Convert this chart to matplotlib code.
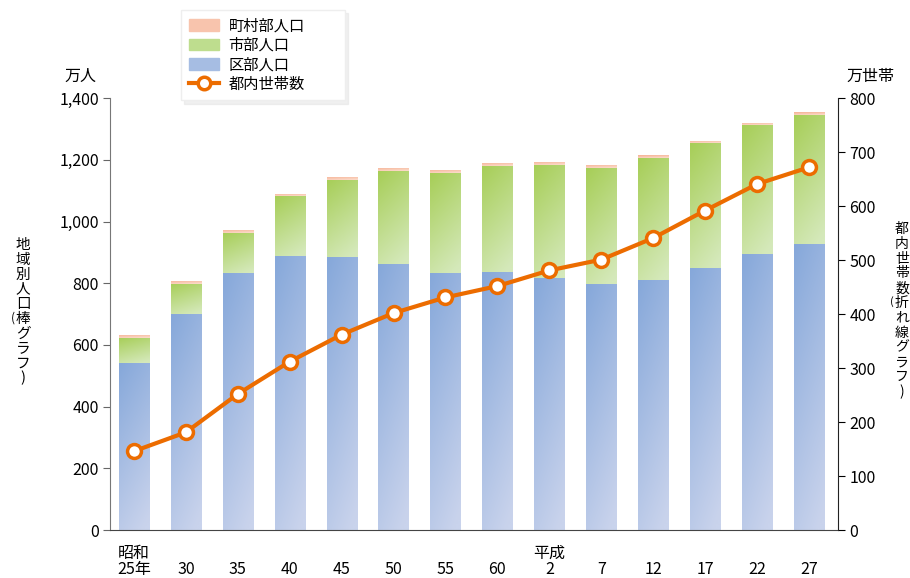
import numpy as np
import matplotlib
matplotlib.use("Agg")
import matplotlib.pyplot as plt
from matplotlib.colors import to_rgb
from matplotlib.patches import Patch
from matplotlib.lines import Line2D

plt.rcParams['font.family'] = ['Noto Sans CJK JP', 'DejaVu Sans']

# データ (万人 / 万世帯)
nendo = ["25年", "30", "35", "40", "45", "50", "55", "60",
         "2", "7", "12", "17", "22", "27"]
ku_jinko = [540, 699, 832, 890, 884, 864, 835, 838, 818, 797, 812, 849, 896, 928]
shi_jinko = [82, 98, 130, 192, 250, 299, 322, 342, 365, 376, 394, 405, 416, 417]
chouson_jinko = [10, 10, 10, 8, 10, 10, 10, 10, 10, 10, 9, 8, 8, 9]
setai = [146, 181, 252, 312, 362, 402, 431, 452, 481, 501, 541, 592, 641, 672]

# 色 (上・下)
ao = ("#86a8da", "#c9d3ec")
midori = ("#a7ce58", "#d5e9bb")
momo = ("#f5b093", "#fcdccb")
orange = "#ec6c00"

fig = plt.figure(figsize=(9.1, 5.78), dpi=100)
ax = fig.add_axes([0.1209, 0.083, 0.8, 0.747])
ax2 = ax.twinx()

x = np.arange(len(nendo))
haba = 0.58


def gradient_bar(xc, bottom, height, colors):
    """グラデーションの棒を描く"""
    bar = ax.bar(xc, height, bottom=bottom, width=haba,
                 color=colors[1], linewidth=0, zorder=2)[0]
    c0 = np.array(to_rgb(colors[0]))
    c1 = np.array(to_rgb(colors[1]))
    yy, xx = np.mgrid[0:1:64j, 0:1:16j]
    t = np.clip(0.8 * yy + 0.25 * xx, 0, 1)
    img = c0 + (c1 - c0) * t[..., None]
    im = ax.imshow(img, extent=[xc - haba / 2, xc + haba / 2,
                                bottom, bottom + height],
                   origin="upper", aspect="auto", zorder=2.1,
                   interpolation="bilinear")
    im.set_clip_path(bar)


for i in range(len(nendo)):
    gradient_bar(x[i], 0, ku_jinko[i], ao)
    gradient_bar(x[i], ku_jinko[i], shi_jinko[i], midori)
    gradient_bar(x[i], ku_jinko[i] + shi_jinko[i], chouson_jinko[i], momo)

ax.set_xlim(-0.46, 13.56)
ax.set_ylim(0, 1400)
ax.set_yticks(range(0, 1401, 200))
ax.set_yticklabels([f"{v:,}" for v in range(0, 1401, 200)])
ax.set_xticks(x)
ax.set_xticklabels(nendo)
ax.tick_params(axis="x", length=0, pad=22, labelsize=11.5)
ax.tick_params(axis="y", length=5, color="#666666", labelsize=11.5, pad=3)
ax.spines["top"].set_visible(False)
ax.spines["right"].set_visible(False)
ax.spines["left"].set_color("#777777")
ax.spines["bottom"].set_color("#444444")

ax2.plot(x, setai, color=orange, linewidth=3, marker="o", markersize=10,
         markerfacecolor="white", markeredgecolor=orange,
         markeredgewidth=2.5, zorder=5)
ax2.set_ylim(0, 800)
ax2.set_yticks(range(0, 801, 100))
ax2.tick_params(axis="y", length=5, labelsize=11.5, pad=3)
for s in ["top", "left", "bottom"]:
    ax2.spines[s].set_visible(False)
ax2.spines["right"].set_color("#222222")

# 元号
ax.text(0, -0.055, "昭和", transform=ax.get_xaxis_transform(),
        ha="center", va="center", fontsize=11.5)
ax.text(8, -0.055, "平成", transform=ax.get_xaxis_transform(),
        ha="center", va="center", fontsize=11.5)

# 単位
fig.text(80 / 910, 1 - 76 / 578, "万人", ha="center", va="center", fontsize=11.5)
fig.text(870 / 910, 1 - 76 / 578, "万世帯", ha="center", va="center", fontsize=11.5)


# 縦書きラベル (一文字ずつ)
def tategaki(xp, ytop, moji, step=14.8, size=10.5):
    y = ytop
    for ch in moji:
        if ch == "(":
            fig.text((xp - 10) / 910, 1 - (y - 1) / 578, "(", ha="center",
                     va="center", fontsize=size - 2)
            continue
        fig.text(xp / 910, 1 - y / 578, ch, ha="center", va="center",
                 fontsize=size)
        y += step


tategaki(23, 245, "地域別人口(棒グラフ)")
tategaki(902, 229, "都内世帯数(折れ線グラフ)", size=10)

# 凡例
handles = [Patch(color="#f8c4ad", label="町村部人口"),
           Patch(color="#bedd8e", label="市部人口"),
           Patch(color="#a6bde3", label="区部人口"),
           Line2D([], [], color=orange, linewidth=3, marker="o", markersize=9,
                  markerfacecolor="white", markeredgecolor=orange,
                  markeredgewidth=2.5, label="都内世帯数")]
leg = fig.legend(handles=handles, loc="upper left",
                 bbox_to_anchor=(181 / 910, 1 - 100 / 578, 164 / 910, 90 / 578),
                 mode="expand", borderaxespad=0, fontsize=11,
                 frameon=True, fancybox=False, framealpha=1,
                 shadow={"color": "#e2e2e2", "ox": 2.5, "oy": -2.5},
                 edgecolor="#eeeeee", handlelength=2.0, handleheight=0.8,
                 labelspacing=0.15, borderpad=0.5, handletextpad=0.6)

plt.savefig("out.png", dpi=100)
